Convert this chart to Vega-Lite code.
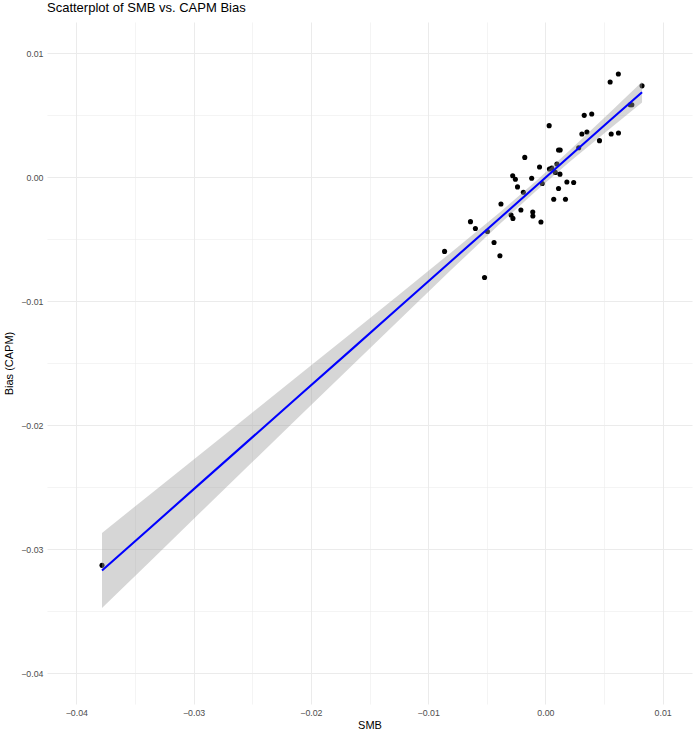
{
  "$schema": "https://vega.github.io/schema/vega-lite/v6.json",
  "width": 645,
  "height": 682,
  "autosize": {"type": "none"},
  "padding": {"left": 47, "top": 22, "right": 6, "bottom": 33},
  "background": "white",
  "title": {
    "text": "Scatterplot of SMB vs. CAPM Bias",
    "anchor": "start",
    "frame": "group",
    "offset": 7,
    "fontSize": 13,
    "font": "Liberation Sans",
    "fontWeight": "normal",
    "color": "black"
  },
  "datasets": {
    "points": [
      {"SMB": -0.00860, "Bias": -0.00600},
      {"SMB": -0.00639, "Bias": -0.00360},
      {"SMB": -0.00597, "Bias": -0.00415},
      {"SMB": -0.00519, "Bias": -0.00810},
      {"SMB": -0.00494, "Bias": -0.00440},
      {"SMB": -0.00438, "Bias": -0.00528},
      {"SMB": -0.00388, "Bias": -0.00635},
      {"SMB": -0.00379, "Bias": -0.00218},
      {"SMB": -0.00293, "Bias": -0.00306},
      {"SMB": -0.00277, "Bias": -0.00334},
      {"SMB": -0.00279, "Bias": 0.00010},
      {"SMB": -0.00256, "Bias": -0.00018},
      {"SMB": -0.00238, "Bias": -0.00080},
      {"SMB": -0.00209, "Bias": -0.00266},
      {"SMB": -0.00188, "Bias": -0.00123},
      {"SMB": -0.00176, "Bias": 0.00158},
      {"SMB": -0.00117, "Bias": -0.00010},
      {"SMB": -0.00108, "Bias": -0.00282},
      {"SMB": -0.00107, "Bias": -0.00314},
      {"SMB": -0.00050, "Bias": 0.00081},
      {"SMB": -0.00038, "Bias": -0.00363},
      {"SMB": -0.00027, "Bias": -0.00052},
      {"SMB": 0.00032, "Bias": 0.00414},
      {"SMB": 0.00034, "Bias": 0.00065},
      {"SMB": 0.00054, "Bias": 0.00073},
      {"SMB": 0.00071, "Bias": -0.00180},
      {"SMB": 0.00084, "Bias": 0.00037},
      {"SMB": 0.00098, "Bias": 0.00105},
      {"SMB": 0.00112, "Bias": 0.00218},
      {"SMB": 0.00126, "Bias": 0.00218},
      {"SMB": 0.00112, "Bias": -0.00093},
      {"SMB": 0.00124, "Bias": 0.00023},
      {"SMB": 0.00171, "Bias": -0.00180},
      {"SMB": 0.00183, "Bias": -0.00040},
      {"SMB": 0.00241, "Bias": -0.00044},
      {"SMB": 0.00284, "Bias": 0.00236},
      {"SMB": 0.00311, "Bias": 0.00347},
      {"SMB": 0.00354, "Bias": 0.00363},
      {"SMB": 0.00331, "Bias": 0.00497},
      {"SMB": 0.00395, "Bias": 0.00508},
      {"SMB": 0.00461, "Bias": 0.00293},
      {"SMB": 0.00561, "Bias": 0.00347},
      {"SMB": 0.00623, "Bias": 0.00355},
      {"SMB": 0.00552, "Bias": 0.00766},
      {"SMB": 0.00622, "Bias": 0.00831},
      {"SMB": 0.00723, "Bias": 0.00583},
      {"SMB": 0.00737, "Bias": 0.00583},
      {"SMB": 0.00824, "Bias": 0.00735},
      {"SMB": -0.03781, "Bias": -0.03132}
    ],
    "band": [
      {"SMB": -0.03781, "fit": -0.03173, "lo": -0.03476, "hi": -0.02870},
      {"SMB": -0.03369, "fit": -0.02828, "lo": -0.03098, "hi": -0.02558},
      {"SMB": -0.02943, "fit": -0.02471, "lo": -0.02706, "hi": -0.02236},
      {"SMB": -0.02517, "fit": -0.02114, "lo": -0.02315, "hi": -0.01913},
      {"SMB": -0.02090, "fit": -0.01756, "lo": -0.01924, "hi": -0.01588},
      {"SMB": -0.01664, "fit": -0.01400, "lo": -0.01534, "hi": -0.01266},
      {"SMB": -0.01238, "fit": -0.01043, "lo": -0.01145, "hi": -0.00941},
      {"SMB": -0.00812, "fit": -0.00685, "lo": -0.00756, "hi": -0.00614},
      {"SMB": -0.00385, "fit": -0.00329, "lo": -0.00376, "hi": -0.00282},
      {"SMB": -0.00087, "fit": -0.00079, "lo": -0.00119, "hi": -0.00039},
      {"SMB": 0.00210, "fit": 0.00171, "lo": 0.00124, "hi": 0.00218},
      {"SMB": 0.00552, "fit": 0.00457, "lo": 0.00391, "hi": 0.00523},
      {"SMB": 0.00824, "fit": 0.00684, "lo": 0.00600, "hi": 0.00768}
    ]
  },
  "layer": [
    {
      "data": {"name": "points"},
      "mark": {"type": "point", "filled": true, "shape": "circle", "size": 26, "color": "black", "opacity": 1},
      "encoding": {
        "x": {
          "field": "SMB", "type": "quantitative",
          "scale": {"domain": [-0.0425, 0.0125], "nice": false, "zero": false},
          "axis": {
            "title": "SMB",
            "values": [-0.04, -0.035, -0.03, -0.025, -0.02, -0.015, -0.01, -0.005, 0, 0.005, 0.01],
            "format": ".2f",
            "labelExpr": "round(datum.value*200) % 2 === 0 ? datum.label : ''",
            "gridWidth": {"condition": {"test": "round(datum.value*200) % 2 === 0", "value": 1.07}, "value": 0.53}
          }
        },
        "y": {
          "field": "Bias", "type": "quantitative",
          "scale": {"domain": [-0.0425, 0.0125], "nice": false, "zero": false},
          "axis": {
            "title": "Bias (CAPM)",
            "values": [-0.04, -0.035, -0.03, -0.025, -0.02, -0.015, -0.01, -0.005, 0, 0.005, 0.01],
            "format": ".2f",
            "labelExpr": "round(datum.value*200) % 2 === 0 ? datum.label : ''",
            "gridWidth": {"condition": {"test": "round(datum.value*200) % 2 === 0", "value": 1.07}, "value": 0.53}
          }
        }
      }
    },
    {
      "data": {"name": "band"},
      "mark": {"type": "area", "color": "#999999", "opacity": 0.4},
      "encoding": {
        "x": {"field": "SMB", "type": "quantitative"},
        "y": {"field": "lo", "type": "quantitative"},
        "y2": {"field": "hi"}
      }
    },
    {
      "data": {"name": "band"},
      "mark": {"type": "line", "color": "#0000FF", "strokeWidth": 2.1},
      "encoding": {
        "x": {"field": "SMB", "type": "quantitative"},
        "y": {"field": "fit", "type": "quantitative"}
      }
    }
  ],
  "config": {
    "view": {"stroke": null},
    "font": "Liberation Sans",
    "axis": {
      "domain": false,
      "ticks": false,
      "grid": true,
      "gridColor": "#EBEBEB",
      "labelFont": "Liberation Sans",
      "labelFontSize": 8.8,
      "labelColor": "#4D4D4D",
      "labelPadding": 4,
      "titleFont": "Liberation Sans",
      "titleFontSize": 11,
      "titleFontWeight": "normal",
      "titleColor": "black"
    },
    "axisX": {"titlePadding": 3},
    "axisY": {"titlePadding": 6}
  }
}
